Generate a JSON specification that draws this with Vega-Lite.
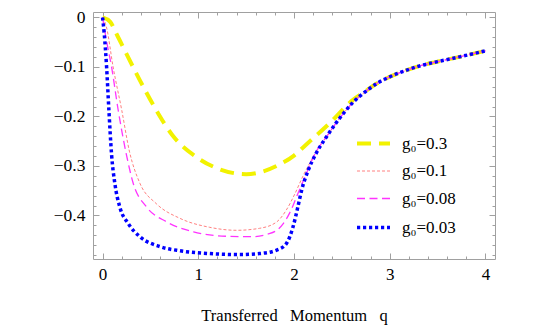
{
  "$schema": "https://vega.github.io/schema/vega-lite/v6.json",
  "width": 402,
  "height": 247,
  "autosize": "none",
  "padding": {"left": 93, "top": 12, "right": 47, "bottom": 76},
  "background": "white",
  "config": {
    "view": {"stroke": "#a0a0a0", "strokeWidth": 1},
    "font": "Liberation Serif",
    "axis": {"labelFont": "Liberation Serif", "titleFont": "Liberation Serif", "labelColor": "black", "titleColor": "black", "tickColor": "#a0a0a0", "grid": false, "domain": false}
  },
  "data": {"values": [
    {"s": "g₀=0.3", "q": 0, "v": 0},
    {"s": "g₀=0.3", "q": 0.08, "v": -0.009},
    {"s": "g₀=0.3", "q": 0.15, "v": -0.035},
    {"s": "g₀=0.3", "q": 0.23, "v": -0.066},
    {"s": "g₀=0.3", "q": 0.39, "v": -0.127},
    {"s": "g₀=0.3", "q": 0.56, "v": -0.187},
    {"s": "g₀=0.3", "q": 0.73, "v": -0.238},
    {"s": "g₀=0.3", "q": 0.98, "v": -0.282},
    {"s": "g₀=0.3", "q": 1.2, "v": -0.305},
    {"s": "g₀=0.3", "q": 1.5, "v": -0.3166},
    {"s": "g₀=0.3", "q": 1.64, "v": -0.313},
    {"s": "g₀=0.3", "q": 1.85, "v": -0.297},
    {"s": "g₀=0.3", "q": 2.0, "v": -0.279},
    {"s": "g₀=0.3", "q": 2.12, "v": -0.258},
    {"s": "g₀=0.3", "q": 2.37, "v": -0.214},
    {"s": "g₀=0.3", "q": 2.62, "v": -0.166},
    {"s": "g₀=0.3", "q": 2.74, "v": -0.150},
    {"s": "g₀=0.3", "q": 2.86, "v": -0.134},
    {"s": "g₀=0.3", "q": 3.0, "v": -0.120},
    {"s": "g₀=0.3", "q": 3.17, "v": -0.107},
    {"s": "g₀=0.3", "q": 3.33, "v": -0.097},
    {"s": "g₀=0.3", "q": 3.49, "v": -0.0897},
    {"s": "g₀=0.3", "q": 3.73, "v": -0.0796},
    {"s": "g₀=0.3", "q": 4.0, "v": -0.0675},

    {"s": "g₀=0.1", "q": 0, "v": 0},
    {"s": "g₀=0.1", "q": 0.04, "v": -0.019},
    {"s": "g₀=0.1", "q": 0.11, "v": -0.10},
    {"s": "g₀=0.1", "q": 0.2, "v": -0.187},
    {"s": "g₀=0.1", "q": 0.28, "v": -0.27},
    {"s": "g₀=0.1", "q": 0.39, "v": -0.335},
    {"s": "g₀=0.1", "q": 0.56, "v": -0.376},
    {"s": "g₀=0.1", "q": 0.81, "v": -0.406},
    {"s": "g₀=0.1", "q": 1.12, "v": -0.424},
    {"s": "g₀=0.1", "q": 1.4, "v": -0.430},
    {"s": "g₀=0.1", "q": 1.64, "v": -0.426},
    {"s": "g₀=0.1", "q": 1.82, "v": -0.413},
    {"s": "g₀=0.1", "q": 1.92, "v": -0.389},
    {"s": "g₀=0.1", "q": 2.01, "v": -0.356},
    {"s": "g₀=0.1", "q": 2.09, "v": -0.322},
    {"s": "g₀=0.1", "q": 2.2, "v": -0.282},
    {"s": "g₀=0.1", "q": 2.27, "v": -0.260},
    {"s": "g₀=0.1", "q": 2.34, "v": -0.241},
    {"s": "g₀=0.1", "q": 2.44, "v": -0.213},
    {"s": "g₀=0.1", "q": 2.52, "v": -0.193},
    {"s": "g₀=0.1", "q": 2.62, "v": -0.171},
    {"s": "g₀=0.1", "q": 2.74, "v": -0.151},
    {"s": "g₀=0.1", "q": 2.86, "v": -0.134},
    {"s": "g₀=0.1", "q": 3.0, "v": -0.120},
    {"s": "g₀=0.1", "q": 3.17, "v": -0.107},
    {"s": "g₀=0.1", "q": 3.33, "v": -0.097},
    {"s": "g₀=0.1", "q": 3.49, "v": -0.0897},
    {"s": "g₀=0.1", "q": 3.73, "v": -0.0796},
    {"s": "g₀=0.1", "q": 4.0, "v": -0.0675},

    {"s": "g₀=0.08", "q": 0, "v": 0},
    {"s": "g₀=0.08", "q": 0.04, "v": -0.046},
    {"s": "g₀=0.08", "q": 0.094, "v": -0.10},
    {"s": "g₀=0.08", "q": 0.163, "v": -0.187},
    {"s": "g₀=0.08", "q": 0.25, "v": -0.278},
    {"s": "g₀=0.08", "q": 0.32, "v": -0.335},
    {"s": "g₀=0.08", "q": 0.46, "v": -0.383},
    {"s": "g₀=0.08", "q": 0.67, "v": -0.413},
    {"s": "g₀=0.08", "q": 0.95, "v": -0.433},
    {"s": "g₀=0.08", "q": 1.29, "v": -0.442},
    {"s": "g₀=0.08", "q": 1.57, "v": -0.443},
    {"s": "g₀=0.08", "q": 1.72, "v": -0.438},
    {"s": "g₀=0.08", "q": 1.82, "v": -0.430},
    {"s": "g₀=0.08", "q": 1.89, "v": -0.416},
    {"s": "g₀=0.08", "q": 1.97, "v": -0.389},
    {"s": "g₀=0.08", "q": 2.04, "v": -0.356},
    {"s": "g₀=0.08", "q": 2.13, "v": -0.315},
    {"s": "g₀=0.08", "q": 2.22, "v": -0.275},
    {"s": "g₀=0.08", "q": 2.34, "v": -0.241},
    {"s": "g₀=0.08", "q": 2.44, "v": -0.213},
    {"s": "g₀=0.08", "q": 2.52, "v": -0.193},
    {"s": "g₀=0.08", "q": 2.62, "v": -0.171},
    {"s": "g₀=0.08", "q": 2.74, "v": -0.151},
    {"s": "g₀=0.08", "q": 2.86, "v": -0.134},
    {"s": "g₀=0.08", "q": 3.0, "v": -0.120},
    {"s": "g₀=0.08", "q": 3.17, "v": -0.107},
    {"s": "g₀=0.08", "q": 3.33, "v": -0.097},
    {"s": "g₀=0.08", "q": 3.49, "v": -0.0897},
    {"s": "g₀=0.08", "q": 3.73, "v": -0.0796},
    {"s": "g₀=0.08", "q": 4.0, "v": -0.0675},

    {"s": "g₀=0.03", "q": 0, "v": 0},
    {"s": "g₀=0.03", "q": 0.017, "v": -0.032},
    {"s": "g₀=0.03", "q": 0.042, "v": -0.10},
    {"s": "g₀=0.03", "q": 0.066, "v": -0.187},
    {"s": "g₀=0.03", "q": 0.094, "v": -0.277},
    {"s": "g₀=0.03", "q": 0.128, "v": -0.335},
    {"s": "g₀=0.03", "q": 0.18, "v": -0.383},
    {"s": "g₀=0.03", "q": 0.267, "v": -0.416},
    {"s": "g₀=0.03", "q": 0.39, "v": -0.443},
    {"s": "g₀=0.03", "q": 0.6, "v": -0.463},
    {"s": "g₀=0.03", "q": 0.81, "v": -0.4715},
    {"s": "g₀=0.03", "q": 1.12, "v": -0.477},
    {"s": "g₀=0.03", "q": 1.43, "v": -0.479},
    {"s": "g₀=0.03", "q": 1.64, "v": -0.477},
    {"s": "g₀=0.03", "q": 1.82, "v": -0.470},
    {"s": "g₀=0.03", "q": 1.92, "v": -0.457},
    {"s": "g₀=0.03", "q": 1.99, "v": -0.423},
    {"s": "g₀=0.03", "q": 2.04, "v": -0.383},
    {"s": "g₀=0.03", "q": 2.08, "v": -0.349},
    {"s": "g₀=0.03", "q": 2.15, "v": -0.308},
    {"s": "g₀=0.03", "q": 2.23, "v": -0.275},
    {"s": "g₀=0.03", "q": 2.34, "v": -0.241},
    {"s": "g₀=0.03", "q": 2.44, "v": -0.213},
    {"s": "g₀=0.03", "q": 2.52, "v": -0.193},
    {"s": "g₀=0.03", "q": 2.62, "v": -0.171},
    {"s": "g₀=0.03", "q": 2.74, "v": -0.151},
    {"s": "g₀=0.03", "q": 2.86, "v": -0.134},
    {"s": "g₀=0.03", "q": 3.0, "v": -0.120},
    {"s": "g₀=0.03", "q": 3.17, "v": -0.107},
    {"s": "g₀=0.03", "q": 3.33, "v": -0.097},
    {"s": "g₀=0.03", "q": 3.49, "v": -0.0897},
    {"s": "g₀=0.03", "q": 3.73, "v": -0.0796},
    {"s": "g₀=0.03", "q": 4.0, "v": -0.0675}
  ]},
  "layer": [
    {
      "mark": {"type": "line", "interpolate": "monotone", "strokeCap": "butt"},
      "encoding": {
        "x": {"field": "q", "type": "quantitative", "scale": {"domain": [-0.1, 4.1], "nice": false, "zero": false},
              "axis": {"orient": "bottom", "values": [0, 1, 2, 3, 4], "format": "~g", "ticks": false, "labelPadding": 7, "labelFont": "Liberation Serif", "labelFontSize": 17, "title": "Transferred\u00a0\u00a0\u00a0Momentum\u00a0\u00a0\u00a0q", "titleFont": "Liberation Serif", "titleFontSize": 16.5, "titleFontWeight": "normal", "titlePadding": 25}},
        "y": {"field": "v", "type": "quantitative", "scale": {"domain": [-0.488, 0.011], "nice": false, "zero": false},
              "axis": {"orient": "left", "values": [0, -0.1, -0.2, -0.3, -0.4], "format": "~g", "ticks": false, "labelPadding": 8, "labelFont": "Liberation Serif", "labelFontSize": 17.5, "title": null}},
        "color": {"field": "s", "type": "nominal", "sort": ["g₀=0.3", "g₀=0.1", "g₀=0.08", "g₀=0.03"],
                  "scale": {"domain": ["g₀=0.3", "g₀=0.1", "g₀=0.08", "g₀=0.03"], "range": ["#f2f200", "#ff8080", "#ff33ff", "#0000ff"]},
                  "legend": {"orient": "none", "legendX": 262, "legendY": 113, "title": null, "symbolType": "stroke", "symbolSize": 1089, "labelFont": "Liberation Serif", "labelFontSize": 17, "labelOffset": 10, "rowPadding": 2, "padding": 0}},
        "strokeDash": {"field": "s", "type": "nominal", "scale": {"type": "ordinal", "domain": ["g₀=0.3", "g₀=0.1", "g₀=0.08", "g₀=0.03"], "range": [[14, 8], [3, 2], [8, 4.5], [3.2, 2.8]]}},
        "strokeWidth": {"field": "s", "type": "nominal", "scale": {"type": "ordinal", "domain": ["g₀=0.3", "g₀=0.1", "g₀=0.08", "g₀=0.03"], "range": [4, 1, 1.3, 3.5]}}
      }
    },
    {
      "mark": {"type": "point", "opacity": 0},
      "encoding": {
        "x": {"field": "q", "type": "quantitative", "axis": {"orient": "bottom", "values": [0, 1, 2, 3, 4], "labels": false, "tickSize": -6, "title": null}},
        "y": {"field": "v", "type": "quantitative", "axis": {"orient": "left", "values": [0, -0.1, -0.2, -0.3, -0.4], "labels": false, "tickSize": -6, "title": null}}
      }
    },
    {
      "mark": {"type": "point", "opacity": 0},
      "encoding": {
        "x": {"field": "q", "type": "quantitative", "axis": {"orient": "bottom", "values": [0.2, 0.4, 0.6, 0.8, 1.2, 1.4, 1.6, 1.8, 2.2, 2.4, 2.6, 2.8, 3.2, 3.4, 3.6, 3.8, 4.0], "labels": false, "tickSize": -3, "title": null}},
        "y": {"field": "v", "type": "quantitative", "axis": {"orient": "left", "values": [-0.02, -0.04, -0.06, -0.08, -0.12, -0.14, -0.16, -0.18, -0.22, -0.24, -0.26, -0.28, -0.32, -0.34, -0.36, -0.38, -0.42, -0.44, -0.46, -0.48], "labels": false, "tickSize": -3, "title": null}}
      }
    },
    {
      "mark": {"type": "point", "opacity": 0},
      "encoding": {
        "x": {"field": "q", "type": "quantitative", "axis": {"orient": "top", "values": [0, 1, 2, 3, 4], "labels": false, "tickSize": -6, "title": null}},
        "y": {"field": "v", "type": "quantitative", "axis": {"orient": "right", "values": [0, -0.1, -0.2, -0.3, -0.4], "labels": false, "tickSize": -6, "title": null}}
      }
    },
    {
      "mark": {"type": "point", "opacity": 0},
      "encoding": {
        "x": {"field": "q", "type": "quantitative", "axis": {"orient": "top", "values": [0.2, 0.4, 0.6, 0.8, 1.2, 1.4, 1.6, 1.8, 2.2, 2.4, 2.6, 2.8, 3.2, 3.4, 3.6, 3.8, 4.0], "labels": false, "tickSize": -3, "title": null}},
        "y": {"field": "v", "type": "quantitative", "axis": {"orient": "right", "values": [-0.02, -0.04, -0.06, -0.08, -0.12, -0.14, -0.16, -0.18, -0.22, -0.24, -0.26, -0.28, -0.32, -0.34, -0.36, -0.38, -0.42, -0.44, -0.46, -0.48], "labels": false, "tickSize": -3, "title": null}}
      }
    }
  ],
  "resolve": {"axis": {"x": "independent", "y": "independent"}}
}
